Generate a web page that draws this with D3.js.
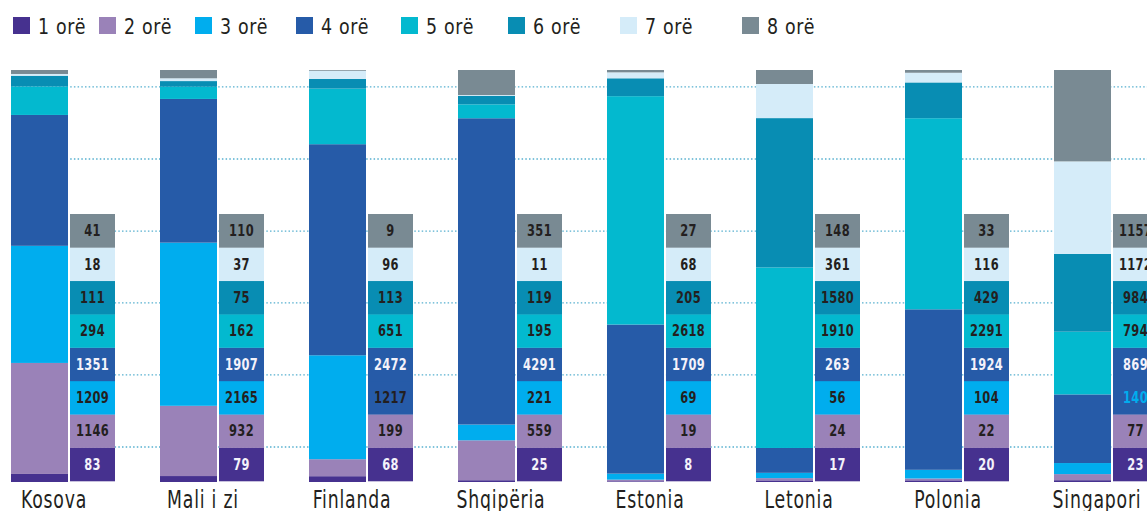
<!DOCTYPE html>
<html>
<head>
<meta charset="utf-8">
<script src="https://cdn.jsdelivr.net/npm/d3@7/dist/d3.min.js"></script>
<style>
  html, body { margin: 0; padding: 0; background: #fff; }
  svg { display: block; }
</style>
</head>
<body>
<svg id="chart" width="1147" height="511"></svg>
<script>
// ---- data ----
const countries = ["Kosova", "Mali i zi", "Finlanda", "Shqipëria", "Estonia", "Letonia", "Polonia", "Singapori"];
const seriesNames = ["1 orë", "2 orë", "3 orë", "4 orë", "5 orë", "6 orë", "7 orë", "8 orë"];
const hours1 = [83, 79, 68, 25, 8, 17, 20, 23];
const hours2 = [1146, 932, 199, 559, 19, 24, 22, 77];
const hours3 = [1209, 2165, 1217, 221, 69, 56, 104, 140];
const hours4 = [1351, 1907, 2472, 4291, 1709, 263, 1924, 869];
const hours5 = [294, 162, 651, 195, 2618, 1910, 2291, 794];
const hours6 = [111, 75, 113, 119, 205, 1580, 429, 984];
const hours7 = [18, 37, 96, 11, 68, 361, 116, 1172];
const hours8 = [41, 110, 9, 351, 27, 148, 33, 1157];
const gridTicks = [0.085, 0.26, 0.435, 0.609, 0.784, 0.959];

// ---- styles ----
const colors = ["#46318f", "#9a82b8", "#00adee", "#265ba8", "#03b9cf", "#088db3", "#d5ecf9", "#798a93"];
const labelColors = ["#f4f2fa", "#231f20", "#231f20", "#f4f2fa", "#231f20", "#231f20", "#231f20", "#231f20"];
// cells in the reference drawn with a different colour than their series
const cellOverrides = [
  { country: "Finlanda", series: 2, fill: colors[3], text: "#231f20" },
  { country: "Singapori", series: 2, fill: colors[3], text: colors[2] }
];
const legendX = [13, 99, 195, 296, 401, 508, 620, 742];
const narrow = "'DejaVu Sans Condensed', 'DejaVu Sans', sans-serif";

const allSeries = [hours1, hours2, hours3, hours4, hours5, hours6, hours7, hours8];
const rows = countries.map((c, i) => {
  const r = { country: c };
  seriesNames.forEach((s, j) => { r[s] = allSeries[j][i]; });
  return r;
});

const svg = d3.select("#chart");

// scales
const x = d3.scaleBand().domain(countries).range([11, 1158]).paddingInner(45 / 149).paddingOuter(0);
const barW = 57, boxGap = 2, boxW = 45;
const yPct = d3.scaleLinear().domain([0, 1]).range([482, 70]);
const yBox = d3.scaleBand().domain(seriesNames.slice().reverse()).range([214, 481]).padding(0);

// gridlines
svg.append("g").selectAll("line").data(gridTicks).join("line")
  .attr("x1", 11).attr("x2", 1147)
  .attr("y1", d => yPct(d)).attr("y2", d => yPct(d))
  .attr("stroke", "#56b0cf").attr("stroke-width", 1.3)
  .attr("stroke-dasharray", "1.5,2.2");

// stacked (normalized) bars
const stack = d3.stack().keys(seriesNames).offset(d3.stackOffsetExpand);
const stacked = stack(rows);
svg.append("g").selectAll("g").data(stacked).join("g")
  .attr("fill", (d, i) => colors[i])
  .selectAll("rect").data(d => d).join("rect")
  .attr("x", d => x(d.data.country))
  .attr("width", barW)
  .attr("y", d => yPct(d[1]))
  .attr("height", d => yPct(d[0]) - yPct(d[1]));

// value boxes
const cells = [];
rows.forEach(r => seriesNames.forEach((s, j) => {
  const o = cellOverrides.find(k => k.country === r.country && k.series === j);
  cells.push({ country: r.country, series: s, value: r[s],
    fill: o ? o.fill : colors[j], text: o ? o.text : labelColors[j] });
}));
const boxG = svg.append("g");
boxG.selectAll("rect").data(cells).join("rect")
  .attr("x", d => x(d.country) + barW + boxGap)
  .attr("y", d => yBox(d.series))
  .attr("width", boxW)
  .attr("height", yBox.bandwidth() + 0.3)
  .attr("fill", d => d.fill);
boxG.selectAll("text").data(cells).join("text")
  .attr("transform", d => `translate(${x(d.country) + barW + boxGap + boxW / 2},${yBox(d.series) + yBox.bandwidth() / 2 + 5.5}) scale(0.82,1)`)
  .attr("text-anchor", "middle")
  .attr("font-family", narrow)
  .attr("font-weight", "bold")
  .attr("font-size", 15.5)
  .attr("letter-spacing", 0.4)
  .attr("fill", d => d.text)
  .text(d => d.value);

// country labels
svg.append("g").selectAll("text").data(countries).join("text")
  .attr("transform", d => `translate(${x(d) + 43},508) scale(0.8,1)`)
  .attr("text-anchor", "middle")
  .attr("font-family", narrow)
  .attr("font-size", 24)
  .attr("letter-spacing", 1)
  .attr("fill", "#231f20")
  .text(d => d);

// legend
const leg = svg.append("g").selectAll("g").data(seriesNames).join("g")
  .attr("transform", (d, i) => `translate(${legendX[i]},17)`);
leg.append("rect").attr("width", 17).attr("height", 17).attr("fill", (d, i) => colors[i]);
leg.append("text")
  .attr("transform", "translate(25,16.5) scale(0.88,1)")
  .attr("font-family", narrow)
  .attr("font-size", 22)
  .attr("letter-spacing", 0.8)
  .attr("fill", "#231f20")
  .text(d => d);
</script>
</body>
</html>
